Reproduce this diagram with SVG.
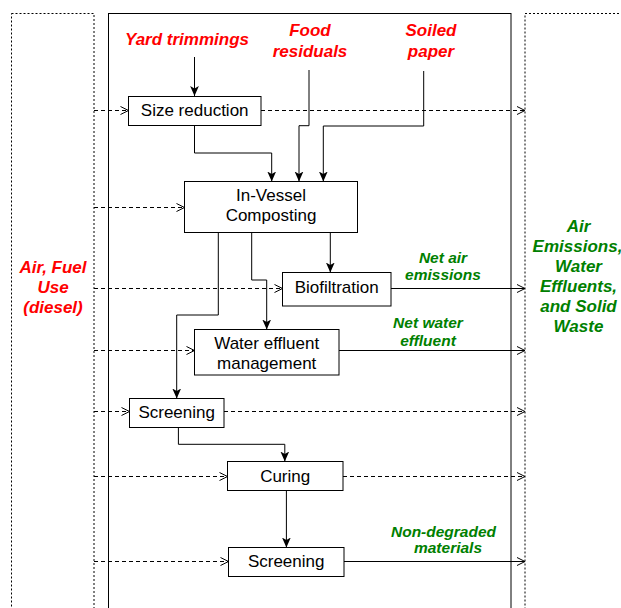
<svg xmlns="http://www.w3.org/2000/svg" width="621" height="608" viewBox="0 0 621 608">
<style>
.frame{fill:none;stroke:#000;stroke-width:1}
.dotf{fill:none;stroke:#000;stroke-width:1;stroke-dasharray:2 2}
.box{fill:#fff;stroke:#000;stroke-width:1}
.nt{font-family:"Liberation Sans",Arial,sans-serif;font-size:17px;fill:#000;text-anchor:middle}
.red{font-family:"Liberation Sans",Arial,sans-serif;font-size:17px;font-weight:bold;font-style:italic;fill:#ff0000;text-anchor:middle}
.grn{font-family:"Liberation Sans",Arial,sans-serif;font-size:17px;font-weight:bold;font-style:italic;fill:#008000;text-anchor:middle}
.gs{font-family:"Liberation Sans",Arial,sans-serif;font-size:15.5px;font-weight:bold;font-style:italic;fill:#008000;text-anchor:middle}
.sol{fill:none;stroke:#000;stroke-width:1;marker-end:url(#fa)}
.out{fill:none;stroke:#000;stroke-width:1;marker-end:url(#oa)}
.dsh{fill:none;stroke:#000;stroke-width:1;stroke-dasharray:4 3;marker-end:url(#oa)}
</style>
<defs>
<marker id="fa" markerUnits="userSpaceOnUse" markerWidth="10" markerHeight="10" viewBox="0 0 8 8" refX="8" refY="4" orient="auto">
<path d="M0,0.5 L8,4 L0,7.5 L2,4 Z" fill="#000"/>
</marker>
<marker id="oa" markerUnits="userSpaceOnUse" markerWidth="10" markerHeight="10" viewBox="0 0 10 10" refX="9" refY="5" orient="auto">
<path d="M1,1 L9,5 L1,9" fill="none" stroke="#000" stroke-width="1"/>
</marker>
</defs>
<g id="frames">
<rect class="dotf" x="11.5" y="13.5" width="82.5" height="620"/>
<rect class="frame" x="108.5" y="13.5" width="402.5" height="620"/>
<rect class="dotf" x="525" y="13.5" width="120" height="620"/>
</g>
<g id="connectors">
<path class="sol" d="M194.5,57 V96"/>
<path class="sol" d="M194.5,125.5 V153 H271.7 V181.5"/>
<path class="sol" d="M309,70 V125.7 H299 V181.5"/>
<path class="sol" d="M423.7,71 V126 H323.3 V181.5"/>
<path class="sol" d="M218.3,232.5 V315 H176.7 V398.5"/>
<path class="sol" d="M251.7,232.5 V280 H266.7 V329.5"/>
<path class="sol" d="M330.3,232.5 V272.5"/>
<path class="sol" d="M178.4,427.5 V444.3 H284.8 V461.5"/>
<path class="sol" d="M286.4,490.5 V547.5"/>
<path class="out" d="M391,288.5 H525"/>
<path class="out" d="M339,350.5 H525"/>
<path class="out" d="M344,561.5 H525"/>
<path class="dsh" d="M94,110.5 H128.5"/>
<path class="dsh" d="M261,110.5 H525"/>
<path class="dsh" d="M94,207.5 H184.5"/>
<path class="dsh" d="M94,288.5 H282.5"/>
<path class="dsh" d="M94,350.5 H194.5"/>
<path class="dsh" d="M94,411.5 H129.5"/>
<path class="dsh" d="M224,411.5 H525"/>
<path class="dsh" d="M94,476.5 H227.5"/>
<path class="dsh" d="M343,476.5 H525"/>
<path class="dsh" d="M94,561.5 H228.5"/>
</g>
<g id="size-reduction"><rect class="box" x="128.5" y="96.5" width="132.5" height="29"/><text class="nt" x="194.7" y="115.5">Size reduction</text></g>
<g id="in-vessel"><rect class="box" x="184.5" y="181.5" width="173" height="51"/><text class="nt" x="271" y="201">In-Vessel</text><text class="nt" x="271" y="221">Composting</text></g>
<g id="biofiltration"><rect class="box" x="282.5" y="272.5" width="108.5" height="33.5"/><text class="nt" x="336.7" y="292.5">Biofiltration</text></g>
<g id="water-effluent"><rect class="box" x="194.5" y="329.5" width="144.5" height="45.5"/><text class="nt" x="266.7" y="348.5">Water effluent</text><text class="nt" x="266.7" y="368.5">management</text></g>
<g id="screening1"><rect class="box" x="129.5" y="398.5" width="94.5" height="29"/><text class="nt" x="176.7" y="417.5">Screening</text></g>
<g id="curing"><rect class="box" x="227.5" y="461.5" width="115.5" height="29"/><text class="nt" x="285.2" y="482">Curing</text></g>
<g id="screening2"><rect class="box" x="228.5" y="547.5" width="115.5" height="29"/><text class="nt" x="286.2" y="566.5">Screening</text></g>
<g id="labels">
<text class="red" x="187" y="45">Yard trimmings</text>
<text class="red" x="310" y="36">Food</text><text class="red" x="310" y="57">residuals</text>
<text class="red" x="431" y="36">Soiled</text><text class="red" x="431" y="57">paper</text>
<text class="red" x="53" y="273">Air, Fuel</text><text class="red" x="53" y="292.5">Use</text><text class="red" x="53" y="312.5">(diesel)</text>
<text class="grn" x="578.5" y="232">Air</text><text class="grn" x="577.5" y="252">Emissions,</text><text class="grn" x="578.5" y="272">Water</text><text class="grn" x="578.5" y="292">Effluents,</text><text class="grn" x="578.5" y="312">and Solid</text><text class="grn" x="578.5" y="332">Waste</text>
<text class="gs" x="443" y="263.3">Net air</text><text class="gs" x="443" y="280">emissions</text>
<text class="gs" x="428" y="328">Net water</text><text class="gs" x="428" y="345.7">effluent</text>
<text class="gs" x="443.5" y="536.7">Non-degraded</text><text class="gs" x="448" y="553.3">materials</text>
</g>
</svg>
